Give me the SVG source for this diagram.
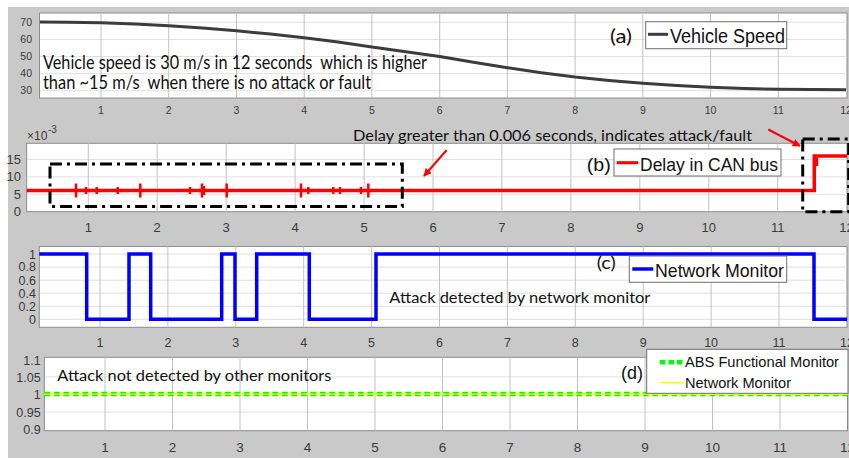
<svg xmlns="http://www.w3.org/2000/svg" width="849" height="458" viewBox="0 0 849 458">
<style>
.bg{fill:#c9c9c9}
.ax{fill:#fff;stroke:#8c8c8c;stroke-width:1}
.gv{stroke:#c2c2c2;stroke-width:1}
.gh{stroke:#e0e0e0;stroke-width:1}
.tk{font-family:"Liberation Sans",Arial,sans-serif;fill:#3a3a3a}
.tka{font-size:10.5px}
.tkb{font-size:13px}
.tkc{font-size:12.5px}
.tkd{font-size:13.5px}
.end{text-anchor:end}
.mid{text-anchor:middle}
.cal{font-family:Lato,"Open Sans",sans-serif;fill:#111;white-space:pre}
.ari{font-family:"Liberation Sans",Arial,sans-serif;fill:#111}
.leg{fill:#fff;stroke:#6e6e6e;stroke-width:1}
.dd{fill:none;stroke:#000;stroke-width:3;stroke-dasharray:12 5 3 5}
.red{fill:none;stroke:#ff0000;stroke-width:3.5}
.spk{stroke:#ff0000;stroke-width:2.5}
.blue{fill:none;stroke:#0000ff;stroke-width:3.5}
.arr{stroke:#ff0000;stroke-width:2;fill:none}
</style>
<defs>
<marker id="ah" viewBox="0 0 10 10" refX="9" refY="5" markerWidth="9" markerHeight="8" markerUnits="userSpaceOnUse" orient="auto">
<path d="M0,0 L10,5 L0,10 z" fill="#ff0000"/>
</marker>
</defs>
<rect x="0" y="0" width="849" height="458" fill="#ffffff"/>
<rect class="bg" x="8" y="7" width="841" height="451"/>

<g id="panel-a">
<rect class="ax" x="39.5" y="13" width="807.5" height="85"/>
<g class="gh">
<line x1="40" y1="22.3" x2="847" y2="22.3"/><line x1="40" y1="39.4" x2="847" y2="39.4"/><line x1="40" y1="56.5" x2="847" y2="56.5"/><line x1="40" y1="73.6" x2="847" y2="73.6"/><line x1="40" y1="90.7" x2="847" y2="90.7"/>
</g>
<g class="gv">
<line x1="101" y1="13" x2="101" y2="98"/><line x1="168.7" y1="13" x2="168.7" y2="98"/><line x1="236.5" y1="13" x2="236.5" y2="98"/><line x1="304.2" y1="13" x2="304.2" y2="98"/><line x1="371.9" y1="13" x2="371.9" y2="98"/><line x1="439.7" y1="13" x2="439.7" y2="98"/><line x1="507.4" y1="13" x2="507.4" y2="98"/><line x1="575.1" y1="13" x2="575.1" y2="98"/><line x1="642.8" y1="13" x2="642.8" y2="98"/><line x1="710.6" y1="13" x2="710.6" y2="98"/><line x1="778.3" y1="13" x2="778.3" y2="98"/>
</g>
<g class="tk tka end">
<text x="32" y="25.5">70</text><text x="32" y="42.6">60</text><text x="32" y="59.7">50</text><text x="32" y="76.8">40</text><text x="32" y="93.9">30</text>
</g>
<g class="tk tka mid">
<text x="101" y="113.5">1</text><text x="168.7" y="113.5">2</text><text x="236.5" y="113.5">3</text><text x="304.2" y="113.5">4</text><text x="371.9" y="113.5">5</text><text x="439.7" y="113.5">6</text><text x="507.4" y="113.5">7</text><text x="575.1" y="113.5">8</text><text x="642.8" y="113.5">9</text><text x="710.6" y="113.5">10</text><text x="778.3" y="113.5">11</text><text x="846" y="113.5">12</text>
</g>
<polyline fill="none" stroke="#3c3c3c" stroke-width="3" stroke-linejoin="round" points="40,22 67,22.2 101,22.7 135,23.9 168.7,25.7 202.6,28 236.5,30.8 270.4,34.1 304.2,37.8 338,42.1 371.9,47 405.8,51.7 439.7,56.5 473.5,62.2 507.4,67.7 541.3,72.8 575.1,77 609,80.4 642.8,83.2 676.7,85.5 710.6,87.3 744.5,88.6 778.3,89.3 812,89.6 846,89.7"/>
<text class="cal" x="43" y="69" font-size="19" textLength="384" lengthAdjust="spacingAndGlyphs">Vehicle speed is 30 m/s in 12 seconds  which is higher</text>
<text class="cal" x="43" y="89.3" font-size="19" textLength="328" lengthAdjust="spacingAndGlyphs">than ~15 m/s  when there is no attack or fault</text>
<text class="cal" x="610" y="42.7" font-size="20" textLength="22" lengthAdjust="spacingAndGlyphs">(a)</text>
<rect class="leg" x="645.7" y="21.7" width="141" height="27"/>
<line x1="648" y1="34.3" x2="668" y2="34.3" stroke="#3c3c3c" stroke-width="3"/>
<text class="ari" x="670" y="42.7" font-size="20" textLength="115" lengthAdjust="spacingAndGlyphs">Vehicle Speed</text>
</g>

<g id="panel-b">
<rect class="ax" x="26.7" y="143.3" width="820.3" height="68.4"/>
<g class="gh">
<line x1="27" y1="159.5" x2="847" y2="159.5"/><line x1="27" y1="176.9" x2="847" y2="176.9"/><line x1="27" y1="194.3" x2="847" y2="194.3"/>
</g>
<g class="gv">
<line x1="88.3" y1="143.3" x2="88.3" y2="211.7"/><line x1="157.2" y1="143.3" x2="157.2" y2="211.7"/><line x1="226.2" y1="143.3" x2="226.2" y2="211.7"/><line x1="295.1" y1="143.3" x2="295.1" y2="211.7"/><line x1="364.1" y1="143.3" x2="364.1" y2="211.7"/><line x1="433" y1="143.3" x2="433" y2="211.7"/><line x1="501.9" y1="143.3" x2="501.9" y2="211.7"/><line x1="570.9" y1="143.3" x2="570.9" y2="211.7"/><line x1="639.8" y1="143.3" x2="639.8" y2="211.7"/><line x1="708.8" y1="143.3" x2="708.8" y2="211.7"/><line x1="777.7" y1="143.3" x2="777.7" y2="211.7"/>
</g>
<g class="tk tkb end">
<text x="21" y="164">15</text><text x="21" y="181.4">10</text><text x="21" y="198.8">5</text><text x="21" y="216">0</text>
</g>
<text class="tk" x="27" y="140" font-size="12">×10</text>
<text class="tk" x="48" y="133" font-size="10">-3</text>
<g class="tk tkb mid">
<text x="88.3" y="232">1</text><text x="157.2" y="232">2</text><text x="226.2" y="232">3</text><text x="295.1" y="232">4</text><text x="364.1" y="232">5</text><text x="433" y="232">6</text><text x="501.9" y="232">7</text><text x="570.9" y="232">8</text><text x="639.8" y="232">9</text><text x="708.8" y="232">10</text><text x="777.7" y="232">11</text><text x="846.6" y="232">12</text>
</g>
<path class="red" d="M26.7,190.5 H814.3 V156 H847"/>
<g class="spk">
<line x1="76" y1="183.5" x2="76" y2="197.5"/><line x1="140.3" y1="183.5" x2="140.3" y2="197.5"/><line x1="202" y1="183.5" x2="202" y2="197.5"/><line x1="204" y1="186" x2="204" y2="195"/><line x1="226.7" y1="183.5" x2="226.7" y2="197.5"/><line x1="301" y1="183.5" x2="301" y2="197.5"/><line x1="368.3" y1="183.5" x2="368.3" y2="197.5"/>
<line x1="86" y1="187" x2="86" y2="194"/><line x1="96.7" y1="187" x2="96.7" y2="194"/><line x1="117.7" y1="187" x2="117.7" y2="194"/><line x1="190" y1="187" x2="190" y2="194"/><line x1="308.3" y1="187" x2="308.3" y2="194"/><line x1="333.3" y1="187" x2="333.3" y2="194"/><line x1="340" y1="187" x2="340" y2="194"/><line x1="361" y1="187" x2="361" y2="194"/>
<line x1="817" y1="158" x2="817" y2="166"/>
</g>
<rect class="dd" x="50" y="164" width="352.3" height="42.5"/>
<rect class="dd" x="802.7" y="139" width="46" height="72.7"/>
<text class="cal" x="353" y="141" font-size="15.5" textLength="399" lengthAdjust="spacingAndGlyphs">Delay greater than 0.006 seconds, indicates attack/fault</text>
<text class="ari" x="586.7" y="170.5" font-size="19" textLength="24" lengthAdjust="spacingAndGlyphs">(b)</text>
<rect class="leg" x="614" y="149" width="167" height="27"/>
<line x1="616.7" y1="162.7" x2="638.3" y2="162.7" stroke="#ff0000" stroke-width="3"/>
<text class="ari" x="640" y="170.5" font-size="18.6" textLength="138" lengthAdjust="spacingAndGlyphs">Delay in CAN bus</text>
</g>

<g id="panel-c">
<rect class="ax" x="39.3" y="246.5" width="807.7" height="80.8"/>
<g class="gh">
<line x1="40" y1="254" x2="847" y2="254"/><line x1="40" y1="267.1" x2="847" y2="267.1"/><line x1="40" y1="280.2" x2="847" y2="280.2"/><line x1="40" y1="293.2" x2="847" y2="293.2"/><line x1="40" y1="306.3" x2="847" y2="306.3"/><line x1="40" y1="319.3" x2="847" y2="319.3"/>
</g>
<g class="gv">
<line x1="100" y1="246.5" x2="100" y2="327.3"/><line x1="167.9" y1="246.5" x2="167.9" y2="327.3"/><line x1="235.8" y1="246.5" x2="235.8" y2="327.3"/><line x1="303.7" y1="246.5" x2="303.7" y2="327.3"/><line x1="371.6" y1="246.5" x2="371.6" y2="327.3"/><line x1="439.5" y1="246.5" x2="439.5" y2="327.3"/><line x1="507.4" y1="246.5" x2="507.4" y2="327.3"/><line x1="575.3" y1="246.5" x2="575.3" y2="327.3"/><line x1="643.2" y1="246.5" x2="643.2" y2="327.3"/><line x1="711.1" y1="246.5" x2="711.1" y2="327.3"/><line x1="779" y1="246.5" x2="779" y2="327.3"/>
</g>
<g class="tk tkc end">
<text x="36" y="258.5">1</text><text x="36" y="271.4">0.8</text><text x="36" y="284.5">0.6</text><text x="36" y="297.5">0.4</text><text x="36" y="310.6">0.2</text><text x="36" y="323.8">0</text>
</g>
<g class="tk tkc mid">
<text x="100" y="346.5">1</text><text x="167.9" y="346.5">2</text><text x="235.8" y="346.5">3</text><text x="303.7" y="346.5">4</text><text x="371.6" y="346.5">5</text><text x="439.5" y="346.5">6</text><text x="507.4" y="346.5">7</text><text x="575.3" y="346.5">8</text><text x="643.2" y="346.5">9</text><text x="711.1" y="346.5">10</text><text x="779" y="346.5">11</text><text x="846.9" y="346.5">12</text>
</g>
<path class="blue" d="M39.3,254 H86.7 V319.3 H129 V254 H150.7 V319.3 H221.7 V254 H235 V319.3 H256.7 V254 H309.3 V319.3 H376 V254 H814 V319.3 H847"/>
<text class="cal" x="389.3" y="303.3" font-size="16" textLength="261" lengthAdjust="spacingAndGlyphs">Attack detected by network monitor</text>
<text class="cal" x="596.7" y="269.3" font-size="17" textLength="19" lengthAdjust="spacingAndGlyphs">(c)</text>
<rect class="leg" x="629.3" y="256" width="157.4" height="26.3"/>
<line x1="632.3" y1="269" x2="653.3" y2="269" stroke="#0000ff" stroke-width="3.5"/>
<text class="ari" x="655" y="276.7" font-size="18.6" textLength="129" lengthAdjust="spacingAndGlyphs">Network Monitor</text>
</g>

<g id="panel-d">
<rect class="ax" x="44.3" y="357.3" width="803.2" height="73.4"/>
<g class="gh">
<line x1="45" y1="376.9" x2="847" y2="376.9"/><line x1="45" y1="394.5" x2="847" y2="394.5"/><line x1="45" y1="412.1" x2="847" y2="412.1"/>
</g>
<g class="gv">
<line x1="105" y1="357.3" x2="105" y2="430.7"/><line x1="172.5" y1="357.3" x2="172.5" y2="430.7"/><line x1="240" y1="357.3" x2="240" y2="430.7"/><line x1="307.5" y1="357.3" x2="307.5" y2="430.7"/><line x1="375" y1="357.3" x2="375" y2="430.7"/><line x1="442.5" y1="357.3" x2="442.5" y2="430.7"/><line x1="510" y1="357.3" x2="510" y2="430.7"/><line x1="577.5" y1="357.3" x2="577.5" y2="430.7"/><line x1="645" y1="357.3" x2="645" y2="430.7"/><line x1="712.5" y1="357.3" x2="712.5" y2="430.7"/><line x1="780" y1="357.3" x2="780" y2="430.7"/>
</g>
<g class="tk tkc end">
<text x="40.7" y="364.5">1.1</text><text x="40.7" y="381.5">1.05</text><text x="40.7" y="399">1</text><text x="40.7" y="416.7">0.95</text><text x="40.7" y="434.3">0.9</text>
</g>
<g class="tk tkd mid">
<text x="105" y="451.5">1</text><text x="172.5" y="451.5">2</text><text x="240" y="451.5">3</text><text x="307.5" y="451.5">4</text><text x="375" y="451.5">5</text><text x="442.5" y="451.5">6</text><text x="510" y="451.5">7</text><text x="577.5" y="451.5">8</text><text x="645" y="451.5">9</text><text x="712.5" y="451.5">10</text><text x="780" y="451.5">11</text><text x="847.5" y="451.5">12</text>
</g>
<line x1="44.3" y1="394" x2="847.5" y2="394" stroke="#00ff00" stroke-width="4.5" stroke-dasharray="6 3.5"/>
<line x1="44.3" y1="394.3" x2="847.5" y2="394.3" stroke="#ffff00" stroke-width="1.6"/>
<text class="cal" x="57.3" y="380.7" font-size="15.5" textLength="274" lengthAdjust="spacingAndGlyphs">Attack not detected by other monitors</text>
<text class="ari" x="621" y="379" font-size="18" textLength="22" lengthAdjust="spacingAndGlyphs">(d)</text>
<rect class="leg" x="646.7" y="349.3" width="201.3" height="44"/>
<line x1="660" y1="362.3" x2="684" y2="362.3" stroke="#00ff00" stroke-width="4.5" stroke-dasharray="5.5 3"/>
<line x1="660" y1="382.7" x2="684" y2="382.7" stroke="#ffff00" stroke-width="1.6"/>
<text class="ari" x="685" y="366.7" font-size="15" textLength="154" lengthAdjust="spacingAndGlyphs">ABS Functional Monitor</text>
<text class="ari" x="685" y="387.7" font-size="15" textLength="106" lengthAdjust="spacingAndGlyphs">Network Monitor</text>
</g>

<g id="connectors">
<line class="arr" x1="446.7" y1="150" x2="424" y2="176" marker-end="url(#ah)"/>
<line class="arr" x1="768.3" y1="129.5" x2="800" y2="146" marker-end="url(#ah)"/>
</g>
</svg>
